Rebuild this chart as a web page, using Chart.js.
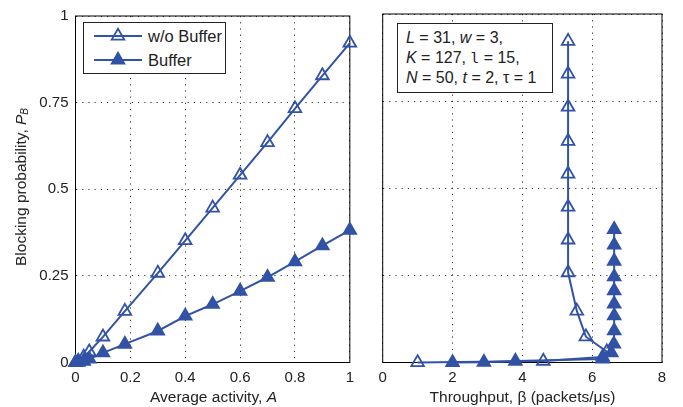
<!DOCTYPE html>
<html>
<head>
<meta charset="UTF-8" />
<script src="https://cdn.jsdelivr.net/npm/chart.js@4.4.1/dist/chart.umd.min.js"></script>
<style>
  body { margin: 0; width: 683px; height: 407px; background: #fff; position: relative; overflow: hidden; font-family: "Liberation Sans", Arial, sans-serif; color: #222; }
  .pane { position: absolute; top: 0; height: 407px; }
  #left { left: 0; width: 360px; }
  #right { left: 360px; width: 323px; }
  .box { position: absolute; border: 1px solid #222; background: #fff; z-index: 2; }
  .row { height: 24px; display: flex; align-items: center; font-size: 16.5px; }
  .row svg { margin-left: 10px; margin-right: 6px; }
  #note { left: 397px; top: 23px; width: 146px; height: 64px; padding: 4px 0 0 8px; font-size: 16px; line-height: 19.5px; }
  .title { position: absolute; font-size: 15.5px; line-height: 18px; text-align: center; white-space: nowrap; z-index: 2; }
  #ytitle { left: 23px; top: 187px; transform: translate(-50%, -50%) rotate(-90deg); }
  sub { font-size: 10px; vertical-align: -2px; }
  .mono { font-family: "DejaVu Sans Mono", monospace; font-size: 14.5px; }
</style>
</head>
<body>

<div class="pane" id="left"><canvas id="leftChart" width="360" height="407"></canvas></div>
<div class="pane" id="right"><canvas id="rightChart" width="323" height="407"></canvas></div>

<div class="box" id="legend" style="left:83px;top:22px;width:141px;height:49px;padding-top:1px;"></div>

<div class="box" id="note">
  <i>L</i> = 31, <i>w</i> = 3,<br/>
  <i>K</i> = 127, <span class="mono">l</span> = 15,<br/>
  <i>N</i> = 50, <i>t</i> = 2, τ = 1
</div>

<div class="title" id="ytitle">Blocking probability, <i>P</i><sub><i>B</i></sub></div>
<div class="title" style="left:75px;width:277px;top:388px;">Average activity, <i>A</i></div>
<div class="title" style="left:383px;width:279px;top:388px;">Throughput, β (packets/μs)</div>

<script>
// 左圖：平均活動度 A 對阻塞機率 P_B；右圖：吞吐量 β 對 P_B（數值由原圖目測）
const seriesNames = ["w/o Buffer", "Buffer"];
const activity = [0, 0.01, 0.03, 0.05, 0.1, 0.18, 0.3, 0.4, 0.5, 0.6, 0.7, 0.8, 0.9, 1];
const pbNoBuffer = [0, 0.004, 0.016, 0.031, 0.074, 0.148, 0.258, 0.352, 0.446, 0.541, 0.635, 0.733, 0.828, 0.922];
const pbBuffer = [0, 0.001, 0.004, 0.01, 0.028, 0.053, 0.091, 0.134, 0.168, 0.206, 0.246, 0.291, 0.337, 0.382];
const thrNoBuffer = [1, 4.6, 6.3, 6.42, 5.82, 5.56, 5.31, 5.31, 5.31, 5.31, 5.31, 5.31, 5.31, 5.31];
const thrBuffer = [2, 2.9, 3.8, 6.3, 6.55, 6.62, 6.63, 6.63, 6.63, 6.63, 6.63, 6.63, 6.63, 6.63];
const leftXTicks = [0, 0.2, 0.4, 0.6, 0.8, 1];
const rightXTicks = [0, 2, 4, 6, 8];
const yTicks = [0, 0.25, 0.5, 0.75, 1];

const blue = "#3152a5";
const gridColor = "#333";

Chart.defaults.font.family = '"Liberation Sans", Arial, sans-serif';
Chart.defaults.font.size = 15;
Chart.defaults.color = "#222";

// 外框四邊
const boxPlugin = {
  id: "box",
  beforeDatasetsDraw(chart) {
    const { ctx, chartArea: a } = chart;
    ctx.save();
    ctx.strokeStyle = "#000";
    ctx.lineWidth = 1;
    ctx.strokeRect(a.left, a.top, a.right - a.left, a.bottom - a.top);
    ctx.restore();
  },
};

function dataset(label, xs, ys, filled, order) {
  return {
    label,
    data: xs.map((x, i) => ({ x, y: ys[i] })),
    showLine: true,
    borderColor: blue,
    borderWidth: 2,
    pointStyle: "triangle",
    pointRadius: 7.3,
    pointBorderWidth: 1.8,
    pointBackgroundColor: filled ? blue : "rgba(0,0,0,0)",
    pointBorderColor: blue,
    clip: false,
    order,
  };
}

function makeChart(id, datasets, xTicks, xMax, yWidth, showY, padRight) {
  return new Chart(document.getElementById(id), {
    type: "scatter",
    data: { datasets },
    options: {
      responsive: false,
      animation: false,
      layout: { padding: { top: 14, right: padRight, left: 0, bottom: 0 } },
      plugins: { legend: { display: false }, tooltip: { enabled: false } },
      scales: {
        x: {
          type: "linear", min: 0, max: xMax,
          afterBuildTicks: (s) => { s.ticks = xTicks.map((v) => ({ value: v })); },
          afterFit: (s) => { s.height = 44.5; },
          ticks: { padding: 6, callback: (v) => String(v) },
          grid: { color: gridColor, lineWidth: 1, drawTicks: false },
          border: { display: false, dash: [1.2, 5] },
        },
        y: {
          type: "linear", min: 0, max: 1,
          afterBuildTicks: (s) => { s.ticks = yTicks.map((v) => ({ value: v })); },
          afterFit: (s) => { s.width = yWidth; },
          ticks: { display: showY, padding: 7, callback: (v) => String(v) },
          grid: { color: gridColor, lineWidth: 1, drawTicks: false },
          border: { display: false, dash: [1.2, 5] },
        },
      },
    },
    plugins: [boxPlugin],
  });
}

makeChart("leftChart", [
  dataset(seriesNames[0], activity, pbNoBuffer, false, 1),
  dataset(seriesNames[1], activity, pbBuffer, true, 0),
], leftXTicks, 1, 75.5, true, 8.5);

makeChart("rightChart", [
  dataset(seriesNames[0], thrNoBuffer, pbNoBuffer, false, 1),
  dataset(seriesNames[1], thrBuffer, pbBuffer, true, 0),
], rightXTicks, 8, 22.7, false, 21);

// 圖例
const legend = document.getElementById("legend");
seriesNames.forEach((name, i) => {
  const filled = i === 1;
  const row = document.createElement("div");
  row.className = "row";
  row.innerHTML =
    '<svg width="48" height="24"><line x1="0" y1="12" x2="48" y2="12" stroke="' + blue + '" stroke-width="2"/>' +
    '<polygon points="24,4.7 30.3,15.65 17.7,15.65" fill="' + (filled ? blue : "none") + '" stroke="' + blue + '" stroke-width="1.8"/></svg>' +
    "<span>" + name + "</span>";
  legend.appendChild(row);
});
</script>

</body>
</html>
